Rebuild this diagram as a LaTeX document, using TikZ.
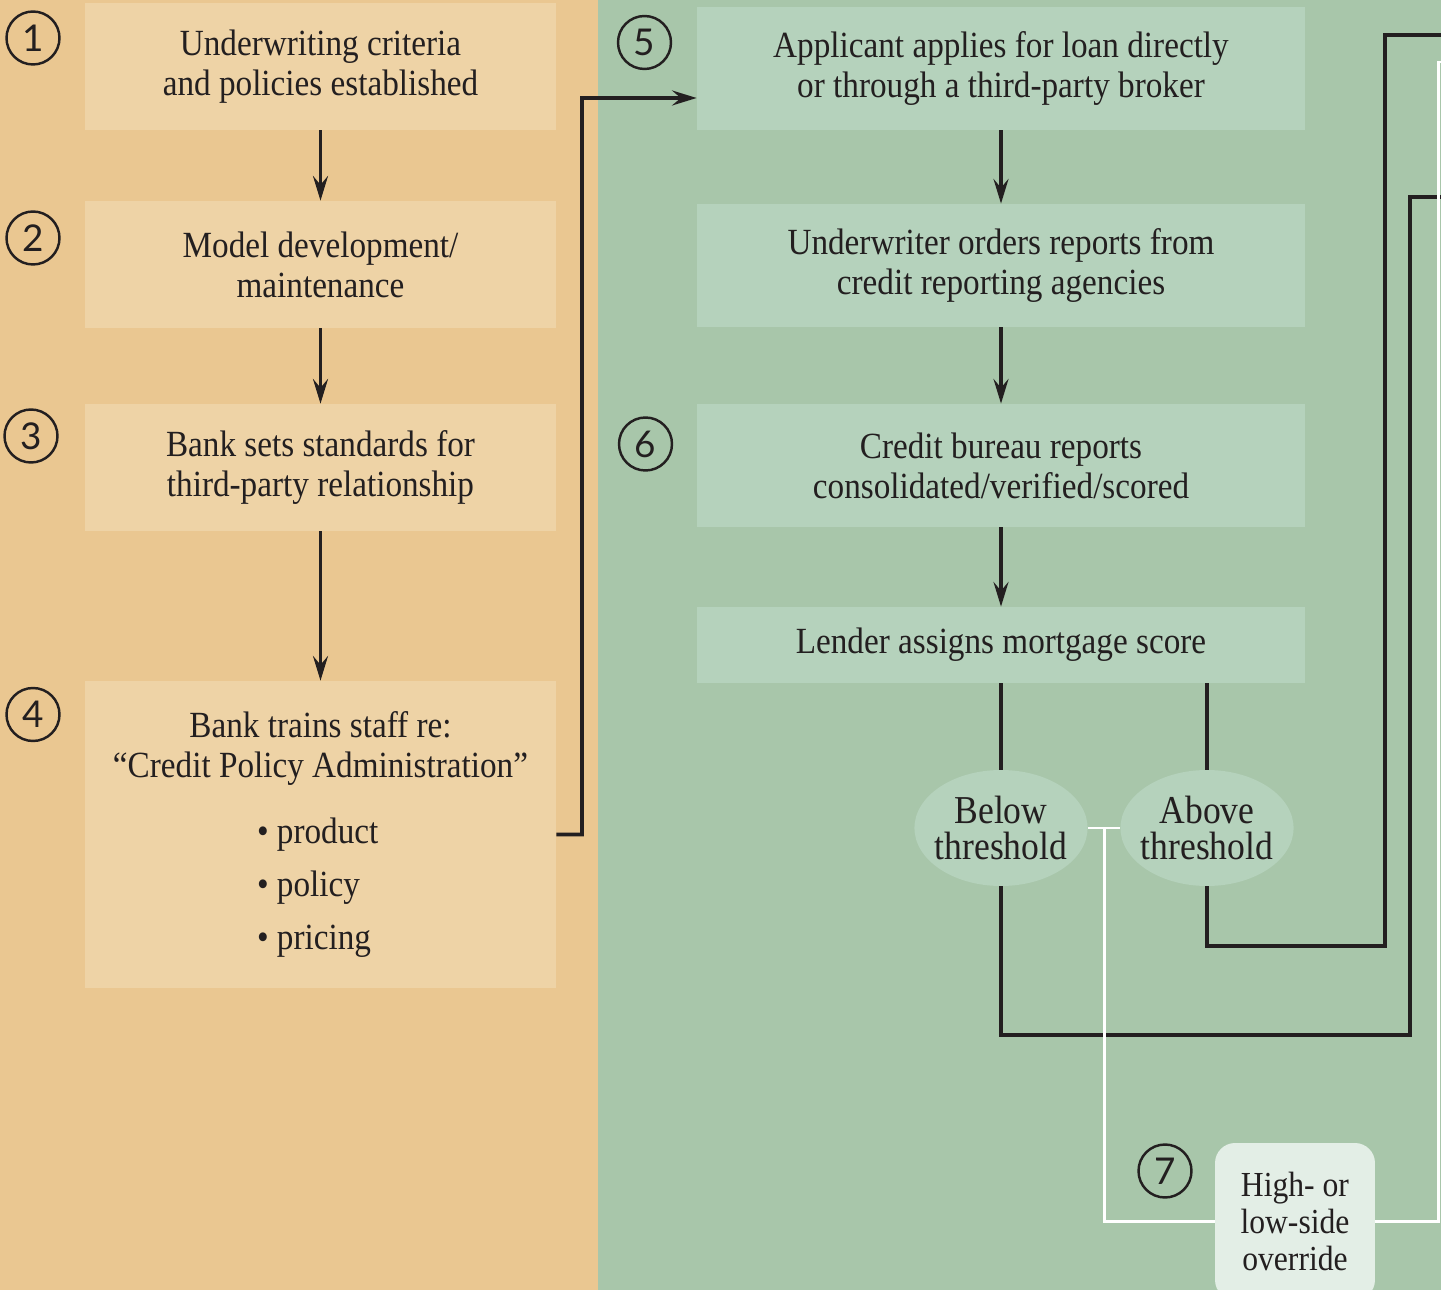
\documentclass[tikz,border=0pt]{standalone}
\usepackage{fontspec}
\setmainfont{Liberation Serif}[FakeStretch=0.9]
\newfontfamily\numfont{Lato}
\usetikzlibrary{arrows.meta,shapes.geometric}
\definecolor{sand}{HTML}{EAC791}
\definecolor{sandbox}{HTML}{EED3A6}
\definecolor{sage}{HTML}{A8C6AA}
\definecolor{sagebox}{HTML}{B5D2BC}
\definecolor{mint}{HTML}{E3EEE6}
\definecolor{ink}{HTML}{231F20}
\tikzset{
  stepbox/.style={fill=#1, text=ink, minimum width=9.42cm, minimum height=2.54cm, inner sep=0pt, align=center, font=\fontsize{21}{22.8}\selectfont},
  gate/.style={ellipse, fill=sagebox, text=ink, minimum height=2.32cm, inner xsep=-0.1cm, inner ysep=0pt, align=center, font=\fontsize{22.5}{20.5}\selectfont},
  num/.style={circle, draw=ink, line width=1.4pt, minimum size=1.06cm, inner sep=0pt, text=ink, font=\numfont\fontsize{21}{21}\selectfont},
  link/.style={draw=ink, line width=2.2pt},
  wline/.style={draw=white, line width=1.7pt}
}
\begin{document}
\begin{tikzpicture}[x=0.02cm, y=-0.02cm, >={Stealth[length=14pt,width=8.5pt,inset=5pt]}]
		\useasboundingbox (0,0) rectangle (1441,1290);
		\clip (0,0) rectangle (1441,1290);
		\fill[sand] (0,0) rectangle (598,1290);
		\fill[sage] (598,0) rectangle (1441,1290);
		\node[stepbox=sandbox] (crit) at (320.5,66.5) {Underwriting criteria\\and policies established};
		\node[stepbox=sandbox] (model) at (320.5,264.5) {Model development/\\maintenance};
		\node[stepbox=sandbox] (stand) at (320.5,467.5) {Bank sets standards for\\third-party relationship};
		\node[stepbox=sandbox, minimum height=6.14cm] (train) at (320.5,834.5) {Bank trains staff re:\\“Credit Policy Administration”\\[14.5pt]
			\makebox[2.54cm][l]{• product}\\[7.5pt]\makebox[2.54cm][l]{• policy}\\[7.5pt]\makebox[2.54cm][l]{• pricing}};
		\node[stepbox=sagebox, minimum width=12.16cm, minimum height=2.46cm] (apply) at (1001,68.5) {Applicant applies for loan directly\\or through a third-party broker};
		\node[stepbox=sagebox, minimum width=12.16cm, minimum height=2.46cm] (order) at (1001,265.5) {Underwriter orders reports from\\credit reporting agencies};
		\node[stepbox=sagebox, minimum width=12.16cm, minimum height=2.46cm] (bureau) at (1001,465.5) {Credit bureau reports\\consolidated/verified/scored};
		\node[stepbox=sagebox, minimum width=12.16cm, minimum height=1.52cm] (score) at (1001,645) {Lender assigns mortgage score};
		\node[gate] (below) at (1001,828) {Below\\threshold};
		\node[gate] (above) at (1207,828) {Above\\threshold};
		\node[fill=mint, rounded corners=0.4cm, minimum width=3.2cm, minimum height=3.14cm, text=ink, align=center, font=\fontsize{20}{21}\selectfont] (override) at (1295,1221.5) {High- or\\low-side\\override};
		\node[num] (n1) at (33,38) {1};
		\node[num] (n2) at (33,238) {2};
		\node[num] (n3) at (31,436) {3};
		\node[num] (n4) at (33,714.5) {4};
		\node[num] (n5) at (644.5,42.5) {5};
		\node[num] (n6) at (645.5,444) {6};
		\node[num] (n7) at (1165,1171) {7};
		\coordinate (outA) at (1441,35);
		\coordinate (outB) at (1441,197);
		\coordinate (outW) at (1441,62);
		\coordinate (tee) at (1104,828);
		\draw[link,->] (crit) -- (model);
		\draw[link,->] (model) -- (stand);
		\draw[link,->] (stand) -- (train);
		\draw[link,->] (train.east) -| (582,98) -- ([yshift=-0.59cm]apply.west);
		\draw[link,->] (apply) -- (order);
		\draw[link,->] (order) -- (bureau);
		\draw[link,->] (bureau) -- (score);
		\draw[link] (score) -- (below);
		\draw[link] (above.north) -- (above.north |- score.south);
		\draw[link] (below.south) |- (1410,1035) |- (outB);
		\draw[link] (above.south) |- (1385,946) |- (outA);
		\draw[wline] (below.east) -- (above.west);
		\draw[wline] (tee) |- (override.west);
		\draw[wline] (override.east) -| (1438,62) -- (outW);
		\end{tikzpicture}
\end{document}
